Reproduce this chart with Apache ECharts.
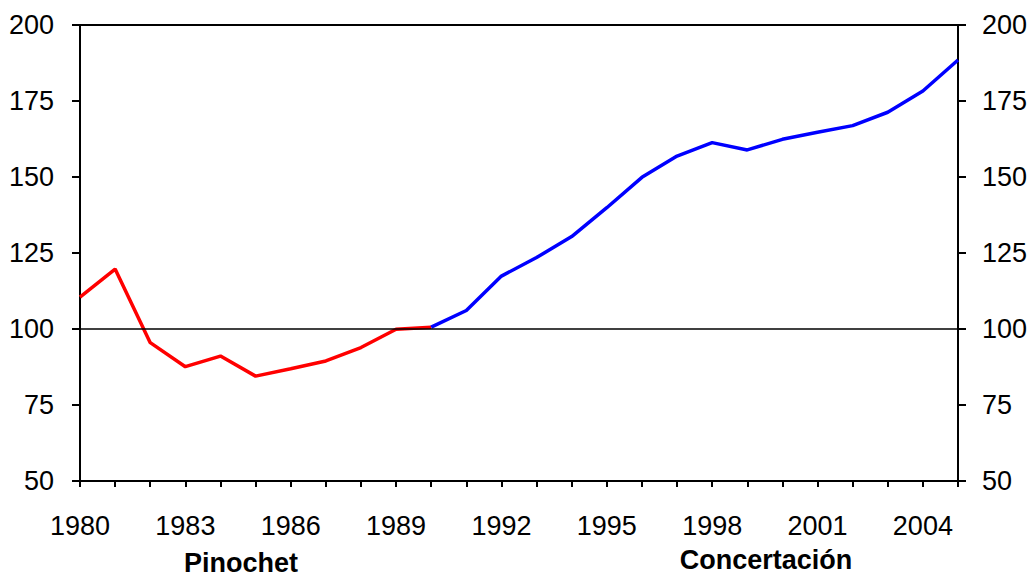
<!DOCTYPE html>
<html>
<head>
<meta charset="utf-8">
<script src="https://cdn.jsdelivr.net/npm/echarts@6/dist/echarts.min.js"></script>
<style>
html,body{margin:0;padding:0;background:#fff;}
#chart{width:1034px;height:581px;}
</style>
</head>
<body>
<div id="chart"></div>
<script>
const years = ['1980','1981','1982','1983','1984','1985','1986','1987','1988','1989','1990','1991','1992','1993','1994','1995','1996','1997','1998','1999','2000','2001','2002','2003','2004','2005'];
const pinochet = [110.5, 119.7, 95.5, 87.6, 91.1, 84.5, 86.9, 89.5, 93.9, 99.9, 100.6, null, null, null, null, null, null, null, null, null, null, null, null, null, null, null];
const concertacion = [null, null, null, null, null, null, null, null, null, null, 100.6, 106.1, 117.4, 123.5, 130.4, 139.9, 149.9, 156.9, 161.3, 158.9, 162.4, 164.7, 166.9, 171.3, 178.3, 188.5];
const yTicks = [50, 200, 25];
const refValue = 100;
const periodLabels = ['Pinochet', 'Concertación'];

const chart = echarts.init(document.getElementById('chart'), null, {renderer: 'svg'});
const font = 'Liberation Sans, Arial, sans-serif';
const axisLabelStyle = {color: '#000', fontSize: 27, fontFamily: font};
chart.setOption({
  animation: false,
  backgroundColor: '#fff',
  grid: {left: 80, right: 76, top: 25, bottom: 100, show: true, borderColor: '#000', borderWidth: 2, backgroundColor: 'transparent'},
  xAxis: {
    type: 'category', data: years, boundaryGap: false,
    axisLine: {lineStyle: {color: '#000', width: 2}},
    axisTick: {show: true, interval: 0, length: 6, lineStyle: {color: '#000', width: 2}},
    axisLabel: Object.assign({interval: 2, margin: 31}, axisLabelStyle),
    splitLine: {show: false}
  },
  yAxis: [
    {type: 'value', position: 'left', min: yTicks[0], max: yTicks[1], interval: yTicks[2],
     axisLine: {show: true, lineStyle: {color: '#000', width: 2}},
     axisTick: {show: true, length: 8, lineStyle: {color: '#000', width: 2}},
     axisLabel: Object.assign({margin: 26}, axisLabelStyle),
     splitLine: {show: false}},
    {type: 'value', position: 'right', min: yTicks[0], max: yTicks[1], interval: yTicks[2],
     axisLine: {show: true, lineStyle: {color: '#000', width: 2}},
     axisTick: {show: true, length: 8, lineStyle: {color: '#000', width: 2}},
     axisLabel: Object.assign({margin: 24}, axisLabelStyle),
     splitLine: {show: false}}
  ],
  series: [
    {name: periodLabels[0], type: 'line', data: pinochet, showSymbol: false, symbol: 'none',
     lineStyle: {color: '#ff0000', width: 3.5}, itemStyle: {color: '#ff0000'}, z: 3,
     markLine: {silent: true, symbol: 'none', label: {show: false}, lineStyle: {color: '#000', width: 1.5, type: 'solid'}, data: [{yAxis: refValue}]}},
    {name: periodLabels[1], type: 'line', data: concertacion, showSymbol: false, symbol: 'none',
     lineStyle: {color: '#0000ff', width: 3.5}, itemStyle: {color: '#0000ff'}, z: 3}
  ],
  graphic: [
    {type: 'text', x: 241, y: 549, style: {text: periodLabels[0], font: 'bold 27px ' + font, fill: '#000', textAlign: 'center'}},
    {type: 'text', x: 766, y: 546, style: {text: periodLabels[1], font: 'bold 27px ' + font, fill: '#000', textAlign: 'center'}}
  ]
});
</script>
</body>
</html>
